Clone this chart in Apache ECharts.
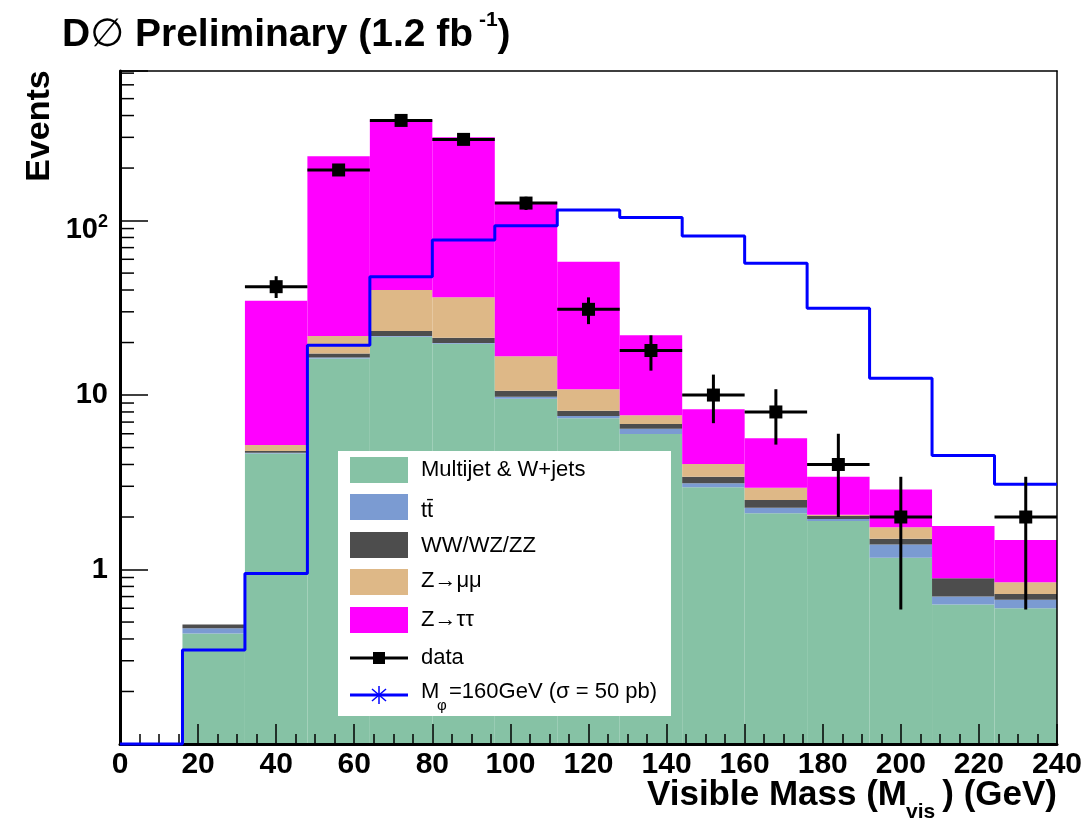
<!DOCTYPE html>
<html>
<head>
<meta charset="utf-8">
<script src="https://cdn.jsdelivr.net/npm/echarts@6/dist/echarts.min.js"></script>
<style>
html,body{margin:0;padding:0;background:#fff;}
#chart{width:1085px;height:824px;}
</style>
</head>
<body>
<div id="chart"></div>
<script>
// ---------- data ----------
const binLow = [0, 16, 32, 48, 64, 80, 96, 112, 128, 144, 160, 176, 192, 208, 224];
const binWidth = 16;
const multijet = [0, 0.43, 4.63, 16.2, 21.6, 19.7, 9.52, 7.37, 5.98, 2.96, 2.10, 1.90, 1.17, 0.63, 0.60];
const ttbar    = [0, 0.03, 0.04, 0.2, 0.2, 0.2, 0.26, 0.21, 0.43, 0.16, 0.16, 0.05, 0.22, 0.07, 0.07];
const diboson  = [0, 0.024, 0.11, 0.9, 1.5, 1.4, 0.82, 0.55, 0.41, 0.28, 0.24, 0.08, 0.11, 0.19, 0.055];
const zmumu    = [0, 0, 0.39, 4.5, 16.7, 15.1, 6.1, 2.67, 0.83, 0.62, 0.44, 0.03, 0.245, 0, 0.12];
const ztautau  = [0, 0, 29.5, 212, 337, 264, 111, 47.2, 14.35, 4.26, 2.71, 1.34, 1.135, 0.885, 0.63];
const signal   = [0, 0.346, 0.95, 19.3, 47.6, 77.3, 93.3, 114.8, 104.3, 81.5, 56.9, 31.4, 12.5, 4.5, 3.08];
const dataVal  = [null, null, 41.8, 195, 375, 292, 126, 31, 18, 10, 8, 4, 2, null, 2];
const dataLo   = [null, null, 36, 181, 356, 275, 115, 25.5, 13.8, 6.9, 5.2, 2.0, 0.59, null, 0.59];
const dataHi   = [null, null, 48, 209, 394, 309, 137, 36.3, 22, 13.1, 10.8, 6.0, 3.4, null, 3.4];
const yTickLabels = {1: '{b|1}', 10: '{b|10}', 100: '{c|10}{s|2}'};
const legendNames = ['Multijet & W+jets', 'tt\u0304', 'WW/WZ/ZZ', 'Z\u2192\u03bc\u03bc', 'Z\u2192\u03c4\u03c4', 'data'];

const yMin = 0.1, yMax = 720, xMin = 0, xMax = 240;
const FONT = '"Liberation Sans", Arial, Helvetica, sans-serif';
const colors = ['#86c2a5', '#7b9bd2', '#4d4d4d', '#deb887', '#ff00ff'];
const comps = [multijet, ttbar, diboson, zmumu, ztautau];

// build stacked layers
const cum = binLow.map(() => 0);
const layerSeries = comps.map((comp, k) => {
  const items = [];
  binLow.forEach((x, i) => {
    const base = cum[i];
    const top = base + comp[i];
    if (comp[i] > 0) items.push([x, x + binWidth, base, top]);
    cum[i] = top;
  });
  const col = colors[k];
  return {
    type: 'custom', z: 2, silent: true,
    data: items,
    encode: {x: [0, 1], y: 3},
    renderItem: function (params, api) {
      const p0 = api.coord([api.value(0), Math.max(api.value(2), yMin)]);
      const p1 = api.coord([api.value(1), api.value(3)]);
      return {type: 'rect', shape: {x: p0[0], y: p1[1], width: p1[0] - p0[0], height: p0[1] - p1[1]},
              style: {fill: col}};
    }
  };
});

// minor ticks on log axis
const minorVals = [];
[0.1, 1, 10, 100].forEach(d => { for (let k = 2; k <= 9; k++) { if (k * d <= yMax) minorVals.push(k * d); } });

const signalPts = binLow.map((x, i) => [x, Math.max(signal[i], yMin)]);
signalPts.push([xMax, Math.max(signal[signal.length - 1], yMin)]);

const dataItems = [];
binLow.forEach((x, i) => { if (dataVal[i] != null) dataItems.push([x + binWidth / 2, dataVal[i], dataLo[i], dataHi[i]]); });

const chart = echarts.init(document.getElementById('chart'), null, {renderer: 'canvas'});

const option = {
  animation: false,
  backgroundColor: '#fff',
  grid: {left: 120, right: 28, top: 71, bottom: 80, show: false},
  xAxis: [{
    type: 'value', min: xMin, max: xMax, interval: 20, z: 5,
    axisLine: {show: true, lineStyle: {color: '#000', width: 3}},
    axisTick: {show: true, inside: true, length: 20, lineStyle: {color: '#000', width: 1.5}},
    minorTick: {show: true, splitNumber: 4, length: 10, lineStyle: {color: '#000', width: 1.5}},
    splitLine: {show: false},
    axisLabel: {color: '#000', fontSize: 30, fontWeight: 'bold', fontFamily: FONT, margin: 6}
  }, {
    type: 'value', min: xMin, max: xMax, position: 'top', z: 5,
    axisLine: {show: true, onZero: false, lineStyle: {color: '#000', width: 1.5}},
    axisTick: {show: false}, axisLabel: {show: false}, splitLine: {show: false}
  }],
  yAxis: [{
    type: 'log', logBase: 10, min: yMin, max: yMax, z: 5,
    axisLine: {show: true, lineStyle: {color: '#000', width: 3}},
    axisTick: {show: true, inside: true, length: 28, lineStyle: {color: '#000', width: 1.5}},
    splitLine: {show: false},
    axisLabel: {
      color: '#000', fontSize: 29, fontWeight: 'bold', fontFamily: FONT, margin: 12,
      formatter: function (v) {
        const r = Math.round(v * 1000) / 1000;
        return yTickLabels[r] || '';
      },
      rich: {
        b: {fontSize: 29, fontWeight: 'bold', fontFamily: FONT, color: '#000'},
        c: {fontSize: 29, fontWeight: 'bold', fontFamily: FONT, color: '#000', padding: [18, 0, 0, 0]},
        s: {fontSize: 18, fontWeight: 'bold', fontFamily: FONT, color: '#000', verticalAlign: 'top', padding: [16, 0, 0, 0]}
      }
    }
  }, {
    type: 'log', logBase: 10, min: yMin, max: yMax, position: 'right', z: 5,
    axisLine: {show: true, onZero: false, lineStyle: {color: '#000', width: 1.5}},
    axisTick: {show: false}, axisLabel: {show: false}, splitLine: {show: false}
  }],
  series: layerSeries.concat([
    {
      type: 'custom', z: 6, silent: true,
      data: minorVals.map(v => [xMin, v]),
      encode: {x: 0, y: 1},
      renderItem: function (params, api) {
        const p = api.coord([api.value(0), api.value(1)]);
        return {type: 'line', shape: {x1: p[0], y1: p[1], x2: p[0] + 14, y2: p[1]},
                style: {stroke: '#000', lineWidth: 1.5}};
      }
    },
    {
      type: 'line', step: 'end', z: 8, clip: false, silent: true,
      data: signalPts, symbol: 'none',
      lineStyle: {color: '#0000ff', width: 3}
    },
    {
      type: 'custom', z: 9, silent: true,
      data: dataItems,
      encode: {x: 0, y: 1},
      renderItem: function (params, api) {
        const c = api.value(0), v = api.value(1), lo = api.value(2), hi = api.value(3);
        const pl = api.coord([c - binWidth / 2, v]);
        const pr = api.coord([c + binWidth / 2, v]);
        const pc = api.coord([c, v]);
        const plo = api.coord([c, lo]);
        const phi = api.coord([c, hi]);
        const s = 13;
        return {type: 'group', children: [
          {type: 'line', shape: {x1: pl[0], y1: pl[1], x2: pr[0], y2: pr[1]}, style: {stroke: '#000', lineWidth: 3}},
          {type: 'line', shape: {x1: plo[0], y1: plo[1], x2: phi[0], y2: phi[1]}, style: {stroke: '#000', lineWidth: 3}},
          {type: 'rect', shape: {x: pc[0] - s / 2, y: pc[1] - s / 2, width: s, height: s}, style: {fill: '#000'}}
        ]};
      }
    }
  ]),
  graphic: [
    // title
    {type: 'text', left: 62, top: 10, z: 20, style: {
      text: '{m|D}{o|\u2205}{m| Preliminary (1.2 fb}{s| -1}{m|)}',
      rich: {
        m: {fontSize: 39, fontWeight: 'bold', fontFamily: FONT, fill: '#000', padding: [6, 0, 0, 0]},
        o: {fontSize: 39, fontWeight: 'normal', fontFamily: '"DejaVu Sans", sans-serif', fill: '#000', padding: [6, 0, 0, 0]},
        s: {fontSize: 21, fontWeight: 'bold', fontFamily: FONT, fill: '#000', verticalAlign: 'top'}
      }
    }},
    // y title
    {type: 'text', x: 40, y: 126, rotation: Math.PI / 2, z: 20, style: {
      text: 'Events', fontSize: 34, fontWeight: 'bold', fontFamily: FONT, fill: '#000',
      align: 'center', verticalAlign: 'middle'
    }},
    // x title
    {type: 'text', x: 907, y: 778, z: 20, style: {
      text: 'Visible Mass (M', fontSize: 35, fontWeight: 'bold', fontFamily: FONT, fill: '#000',
      align: 'right', verticalAlign: 'top'
    }},
    {type: 'text', x: 906, y: 802, z: 20, style: {
      text: 'vis', fontSize: 21, fontWeight: 'bold', fontFamily: FONT, fill: '#000',
      align: 'left', verticalAlign: 'top'
    }},
    {type: 'text', x: 1057, y: 778, z: 20, style: {
      text: ') (GeV)', fontSize: 35, fontWeight: 'bold', fontFamily: FONT, fill: '#000',
      align: 'right', verticalAlign: 'top'
    }},
    // legend box
    {type: 'rect', z: 20, shape: {x: 338, y: 451, width: 333, height: 265}, style: {fill: '#fff'}},
    {type: 'rect', z: 21, shape: {x: 350, y: 457, width: 58, height: 26}, style: {fill: colors[0]}},
    {type: 'rect', z: 21, shape: {x: 350, y: 494, width: 58, height: 26}, style: {fill: colors[1]}},
    {type: 'rect', z: 21, shape: {x: 350, y: 532, width: 58, height: 26}, style: {fill: colors[2]}},
    {type: 'rect', z: 21, shape: {x: 350, y: 569, width: 58, height: 26}, style: {fill: colors[3]}},
    {type: 'rect', z: 21, shape: {x: 350, y: 607, width: 58, height: 26}, style: {fill: colors[4]}},
    {type: 'line', z: 21, shape: {x1: 350, y1: 658, x2: 408, y2: 658}, style: {stroke: '#000', lineWidth: 3}},
    {type: 'rect', z: 22, shape: {x: 373, y: 652, width: 12, height: 12}, style: {fill: '#000'}},
    {type: 'line', z: 21, shape: {x1: 350, y1: 695, x2: 408, y2: 695}, style: {stroke: '#0000ff', lineWidth: 3}},
    {type: 'line', z: 22, shape: {x1: 379, y1: 686, x2: 379, y2: 704}, style: {stroke: '#0000ff', lineWidth: 1.5}},
    {type: 'line', z: 22, shape: {x1: 372, y1: 689, x2: 386, y2: 701}, style: {stroke: '#0000ff', lineWidth: 1.5}},
    {type: 'line', z: 22, shape: {x1: 372, y1: 701, x2: 386, y2: 689}, style: {stroke: '#0000ff', lineWidth: 1.5}},
    {type: 'text', z: 22, x: 421, y: 470, style: {text: legendNames[0], fontSize: 22, fontFamily: FONT, fill: '#000', verticalAlign: 'middle'}},
    {type: 'text', z: 22, x: 421, y: 511, style: {text: legendNames[1], fontSize: 22, fontFamily: FONT, fill: '#000', verticalAlign: 'middle'}},
    {type: 'text', z: 22, x: 421, y: 546, style: {text: legendNames[2], fontSize: 22, fontFamily: FONT, fill: '#000', verticalAlign: 'middle'}},
    {type: 'text', z: 22, x: 421, y: 581, style: {text: legendNames[3], fontSize: 22, fontFamily: FONT, fill: '#000', verticalAlign: 'middle'}},
    {type: 'text', z: 22, x: 421, y: 620, style: {text: legendNames[4], fontSize: 22, fontFamily: FONT, fill: '#000', verticalAlign: 'middle'}},
    {type: 'text', z: 22, x: 421, y: 658, style: {text: legendNames[5], fontSize: 22, fontFamily: FONT, fill: '#000', verticalAlign: 'middle'}},
    {type: 'text', z: 22, x: 421, y: 692, style: {text: 'M', fontSize: 22, fontFamily: FONT, fill: '#000', verticalAlign: 'middle'}},
    {type: 'text', z: 22, x: 437, y: 706, style: {text: '\u03c6', fontSize: 15, fontFamily: FONT, fill: '#000', verticalAlign: 'middle'}},
    {type: 'text', z: 22, x: 449, y: 692, style: {text: '=160GeV (\u03c3 = 50 pb)', fontSize: 22, fontFamily: FONT, fill: '#000', verticalAlign: 'middle'}}
  ]
};
chart.setOption(option);
</script>
</body>
</html>
